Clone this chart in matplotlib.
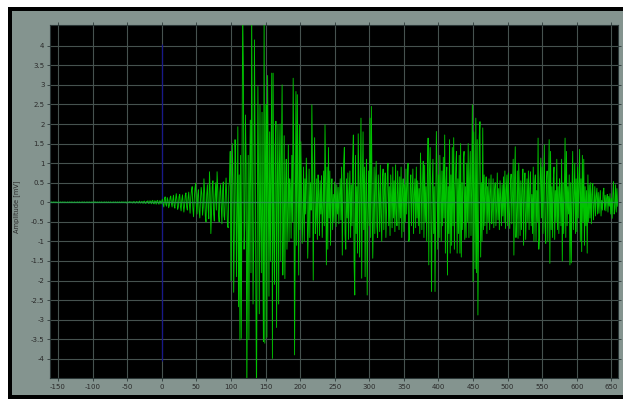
import numpy as np
import matplotlib
matplotlib.use("Agg")
import matplotlib.pyplot as plt
from matplotlib.patches import Rectangle

# Quiet record before the event, one sample per ms starting at -160 ms
pre_start = -160
pre_amplitude = [
    0.00, 0.01, -0.01, 0.00, 0.01, 0.00, -0.01, 0.01, 0.00, -0.01, 0.00, 0.01, -0.01, 0.00, 0.01, -0.01, 0.00, 0.01, 0.00, -0.01,
    0.01, 0.00, -0.01, 0.00, 0.01, -0.01, 0.00, 0.01, 0.00, -0.01, 0.01, 0.00, 0.00, -0.01, 0.01, 0.00, -0.01, 0.00, 0.01, 0.00,
    -0.01, 0.01, 0.00, -0.01, 0.00, 0.01, 0.00, -0.01, 0.01, 0.00, -0.01, 0.00, 0.01, 0.00, -0.01, 0.01, 0.00, 0.00, -0.01, 0.01,
    0.00, -0.01, 0.01, 0.00, 0.01, -0.01, 0.00, 0.01, -0.01, 0.00, 0.01, 0.00, -0.01, 0.01, 0.00, -0.01, 0.00, 0.01, -0.01, 0.00,
    0.01, 0.00, -0.01, 0.01, 0.00, -0.01, 0.01, 0.00, -0.01, 0.00, 0.01, -0.01, 0.00, 0.01, 0.00, -0.01, 0.01, -0.01, 0.00, 0.01,
    -0.01, 0.00, 0.01, -0.01, 0.01, 0.00, -0.01, 0.01, 0.00, -0.02, 0.01, 0.01, -0.01, 0.00, 0.02, -0.01, 0.00, 0.01, -0.02, 0.01,
    0.02, -0.01, -0.02, 0.01, 0.02, 0.00, -0.02, 0.01, 0.03, -0.02, -0.01, 0.02, 0.01, -0.03, 0.02, 0.03, -0.02, -0.03, 0.02, 0.01,
    0.04, -0.03, -0.02, 0.04, 0.02, -0.04, 0.03, 0.05, -0.03, -0.04, 0.04, 0.02, -0.05, 0.03, 0.05, -0.02, -0.05, 0.04, 0.03, -0.04,
]

# Event record, one sample per ms starting at 0 ms
event_start = 0
event_amplitude = [
    0.02, 0.08, -0.05, -0.12, 0.10, 0.14, -0.06, -0.10, 0.12, 0.05, -0.14, -0.08, 0.11, 0.16, -0.03, -0.12, 0.06, 0.18, -0.09, -0.15,
    0.08, 0.22, 0.05, -0.18, -0.12, 0.15, 0.20, -0.10, -0.22, 0.06, 0.19, -0.05, -0.25, -0.08, 0.18, 0.24, -0.12, -0.20, 0.10, 0.26,
    -0.05, -0.28, 0.12, 0.30, 0.40, -0.15, -0.37, 0.08, 0.35, 0.49, -0.10, -0.30, 0.18, 0.32, -0.22, -0.40, 0.05, 0.38, 0.20, -0.33,
    -0.12, 0.60, 0.25, -0.35, -0.50, 0.20, 0.45, -0.15, -0.42, 0.78, 0.30, -0.80, -0.25, 0.40, 0.55, -0.30, -0.48, 0.15, 0.50, -0.20,
    0.78, 0.35, -0.30, -0.50, 0.25, 0.45, -0.10, -0.55, 0.30, 0.52, -0.35, -0.45, 0.20, 0.62, 0.10, -0.60, -0.65, 0.40, 0.55, 1.30,
    -2.00, -0.40, 1.50, 0.60, -2.30, -0.80, 1.60, 0.90, -1.90, -0.30, 1.93, -2.67, 0.70, -3.52, 1.20, -3.48, 0.50, 4.90, 3.43, -1.20,
    -0.60, 2.23, 1.00, -4.90, -1.50, 1.20, -3.50, 0.40, 2.10, -1.80, 4.90, 0.80, -2.60, -0.90, 4.15, 1.50, -2.20, -4.90, -0.80, 2.96,
    0.70, -2.85, 2.49, -0.50, -1.80, 2.30, -1.20, -3.56, 4.90, -3.60, 1.00, 2.50, -3.45, 3.24, 0.60, -2.40, 1.80, -1.50, 0.90, 3.30,
    -3.99, 3.30, -0.80, -2.10, 1.40, 2.07, -3.20, 0.50, 1.98, -2.60, 0.90, 2.00, -1.50, 1.20, 3.00, -1.86, -0.60, 1.70, -1.95, 0.40,
    1.10, -1.20, -0.40, 1.47, -1.00, 0.60, 0.30, -0.92, 1.20, -0.50, 3.17, 0.80, -3.90, -0.60, 2.83, -1.10, 2.75, 0.20, -1.86, 1.98,
    -0.70, 1.55, 0.20, -1.05, -0.40, 0.90, -1.00, 0.60, -0.30, 1.13, 0.40, -1.43, -0.60, 0.85, -0.90, 0.50, -0.20, 2.49, 0.70, -1.99,
    0.30, 1.65, -0.80, -0.40, 0.60, -0.95, 0.70, 0.20, -0.85, 0.55, -0.30, 0.68, -0.90, -0.20, 0.80, -0.60, 1.98, 0.50, -1.60, 0.90,
    -1.20, 1.40, -0.40, 0.80, -1.10, 0.30, 0.60, -0.70, 0.20, -0.50, 0.52, 0.10, -0.62, 0.45, -0.30, 0.38, -0.55, 0.20, 0.60, -0.45,
    0.90, -1.35, 0.30, 1.04, 1.40, -0.80, -1.20, 0.60, -0.40, 0.75, -0.95, 0.20, 0.80, -0.90, 0.45, -0.60, 1.10, 1.72, -1.50, -2.37,
    1.20, -0.80, 0.40, -1.30, 1.75, 0.60, -1.40, 0.30, 2.15, -1.94, 0.50, 1.80, -0.70, 0.90, -1.90, 0.40, 1.10, -2.37, -0.50, 0.80,
    -0.60, 2.15, -0.90, 2.45, 0.30, -1.43, -0.40, 0.90, -0.80, 0.50, 1.05, -0.60, -0.90, 0.70, 0.20, -0.75, 0.95, -0.30, -1.00, 0.60,
    0.85, -0.70, 0.30, 0.75, -0.90, -0.20, 0.65, 1.00, -0.60, 0.40, -0.85, 0.70, 0.15, -0.65, 0.90, -0.40, 0.55, -0.75, 0.96, -0.30,
    -0.60, 0.80, 0.20, -0.70, 0.65, -0.40, 0.90, -0.90, 0.30, 0.60, -0.75, 0.45, -0.50, 0.85, -0.30, 0.50, 1.00, -1.00, -0.95, 0.40,
    0.70, -0.60, 0.30, 0.85, -0.80, 0.20, 0.60, -0.65, 0.90, -0.40, 0.55, -0.60, 0.35, -0.80, 1.26, 0.40, -0.70, 0.50, 1.05, -0.90,
    0.95, -0.50, 0.40, -1.00, 0.70, 1.64, -1.60, 0.80, 1.40, -0.60, -2.28, 0.50, 1.10, -0.80, 0.40, -2.28, -0.30, 1.81, 0.60, -1.20,
    0.70, -0.90, 1.20, 0.30, -1.00, 0.80, -0.60, 1.15, -0.40, 1.72, -1.30, 0.50, 0.90, -1.86, 0.40, -0.80, 1.60, -1.30, 0.70, -1.10,
    1.40, -0.60, 1.65, -1.20, 0.30, 0.90, 1.30, -1.30, 0.60, -0.80, 1.20, -1.30, 1.50, -1.40, 0.50, -0.70, 1.10, 1.30, -0.95, 0.40,
    -0.90, 1.00, -0.50, 1.50, -0.90, 0.60, 1.30, -0.85, 0.40, 2.49, -2.03, 1.80, 0.20, -1.70, 2.15, -1.80, 1.60, -2.88, -0.60, 1.70,
    2.06, -1.40, 0.50, -1.00, 1.90, -0.70, 0.70, -0.60, 0.30, 0.65, -0.80, 0.40, -0.50, 0.60, -0.70, 0.25, 0.70, -0.55, -0.20, 0.60,
    -0.65, 0.30, 0.50, -0.60, -0.20, 0.75, -0.45, 0.35, -0.70, 0.55, 0.10, -0.60, 0.45, -0.35, 0.65, -0.50, 0.80, -0.67, 0.30, 0.70,
    -0.60, 0.75, -0.30, -0.67, 0.50, 0.72, -0.55, 0.20, 1.10, -1.35, 0.60, 1.42, -0.90, -0.40, 0.80, -0.92, 1.00, 0.30, -0.85, 0.55,
    -0.70, 0.40, 0.85, -1.10, 0.30, 0.75, -0.95, -0.30, 0.60, -0.50, 0.80, -0.70, 0.35, 0.78, -0.60, 0.20, -0.80, 0.90, -1.00, 0.50,
    0.70, -1.00, 0.30, -0.50, 1.64, -1.20, -0.90, 0.60, 1.13, -0.40, 0.90, -0.80, 0.30, 1.47, -0.60, -1.05, 0.50, 0.80, -1.00, 0.40,
    1.60, -1.56, 1.30, -0.70, 0.40, -0.90, 0.60, 0.90, -0.95, 0.30, -0.50, 1.10, -0.70, 0.40, -0.80, 0.60, 0.20, -0.60, 1.10, -1.50,
    0.50, -0.80, 0.30, 1.64, -0.90, 1.30, -0.60, 0.40, -0.30, 0.70, -1.60, 0.50, -1.55, 0.30, 1.30, -0.70, 0.20, 1.00, -0.80, 0.60,
    -0.75, 0.90, -0.40, 0.50, 1.35, -1.00, 0.60, -1.26, 1.20, -0.50, 1.10, -1.10, 0.40, -0.60, 0.30, -1.30, 0.70, -0.50, 0.45, -0.40,
    0.50, -0.55, 0.20, 0.48, -0.45, -0.10, 0.40, -0.35, 0.15, 0.36, -0.30, 0.25, -0.28, 0.10, 0.30, -0.35, 0.05, -0.20, 0.25, 0.36,
    -0.20, 0.18, -0.22, 0.10, 0.20, -0.25, 0.15, -0.10, 0.22, -0.30, 0.10, -0.41, 0.20, 0.53, -0.30, -0.15, 0.45, -0.25, 0.35, -0.10,
]
sample_step = 1.0

x_ticks = [-150, -100, -50, 0, 50, 100, 150, 200, 250, 300, 350, 400, 450, 500, 550, 600, 650]
y_ticks = [-4, -3.5, -3, -2.5, -2, -1.5, -1, -0.5, 0, 0.5, 1, 1.5, 2, 2.5, 3, 3.5, 4]
y_label = "Amplitude [mV]"

pre_t = pre_start + sample_step * np.arange(len(pre_amplitude))
event_t = event_start + sample_step * np.arange(len(event_amplitude))
t = np.concatenate([pre_t, event_t])
amp = np.concatenate([np.asarray(pre_amplitude), np.asarray(event_amplitude)])

W, H = 623, 399
fig = plt.figure(figsize=(W / 100, H / 100), dpi=100)
fig.patch.set_facecolor("white")

# window frame: black border with a grey panel inside
fig.patches.append(Rectangle((8 / W, 0), 1 - 8 / W, (H - 7) / H, transform=fig.transFigure,
                             facecolor="black", edgecolor="none", zorder=-10))
fig.patches.append(Rectangle((12 / W, 4 / H), 1 - 12 / W, (H - 11 - 4) / H, transform=fig.transFigure,
                             facecolor="#84948f", edgecolor="none", zorder=-9))

ax = fig.add_axes([50 / W, (H - 378) / H, (618 - 50) / W, (378 - 25) / H])
ax.set_zorder(5)
ax.set_facecolor("black")

ax.plot(t, amp, color="#00c400", lw=0.65, zorder=4)
ax.axhline(0, color="#3d8a7c", lw=1.0, alpha=0.5, zorder=5)
ax.vlines(0, -4.05, 4.05, color="#18188a", lw=0.9, zorder=3)

ax.set_xlim(-161.5, 659.5)
ax.set_ylim(-4.49, 4.53)
ax.set_xticks(x_ticks)
ax.set_xticklabels([str(v) for v in x_ticks])
ax.set_yticks(y_ticks)
ax.set_yticklabels([("%g" % v) for v in y_ticks])

ax.grid(True, color="#46524f", lw=0.8)
ax.set_axisbelow(True)
ax.tick_params(axis="both", direction="out", length=2.5, width=0.6, color="#2e3a3a",
               labelsize=5, labelcolor="#2a2a2a", pad=1.5, top=True, right=True)
for s in ax.spines.values():
    s.set_color("#2a3636")
    s.set_linewidth(0.8)

fig.text(17 / W, (H - 207) / H, y_label, rotation=90, ha="center", va="center",
         fontsize=4.8, color="#2a2a2a", zorder=6)

fig.savefig("out.png", dpi=100)
